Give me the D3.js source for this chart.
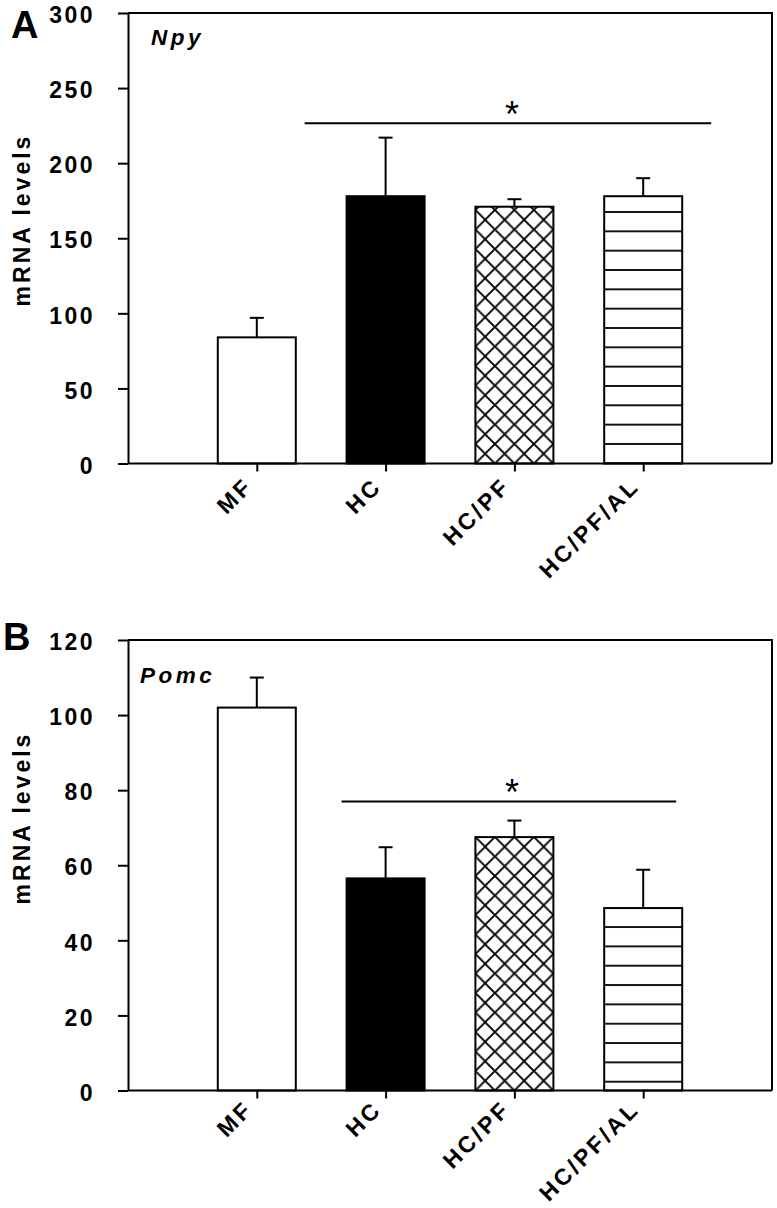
<!DOCTYPE html>
<html>
<head>
<meta charset="utf-8">
<script src="https://cdn.jsdelivr.net/npm/d3@7"></script>
<style>
  html, body { margin: 0; padding: 0; background: #fff; }
  svg { display: block; font-family: "Liberation Sans", Arial, sans-serif; }
</style>
</head>
<body>
<svg id="chart" width="777" height="1208"></svg>
<script>
// ---------------- data ----------------
const categories = ["MF", "HC", "HC/PF", "HC/PF/AL"];
const fills = ["white", "black", "cross", "hlines"];

const npyMeans  = [84, 178, 171, 178];
const npyErrors = [13, 39, 5, 12];
const npyTicks  = [0, 50, 100, 150, 200, 250, 300];

const pomcMeans  = [102, 56.5, 67.5, 48.6];
const pomcErrors = [8, 8.3, 4.4, 10.2];
const pomcTicks  = [0, 20, 40, 60, 80, 100, 120];

const panels = [
  { letter: "A", gene: "Npy", means: npyMeans, errors: npyErrors, ticks: npyTicks, max: 300,
    top: 13, bottom: 463.5, sigValue: 226.5, sigFrom: "HC", sigFromDx: -81, sigTo: "HC/PF/AL", sigToDx: 68,
    letterX: 11, letterY: 37.5, geneX: 151, geneY: 45, labelY: 220, hlineY: 463.3, xlabDy: 24 },
  { letter: "B", gene: "Pomc", means: pomcMeans, errors: pomcErrors, ticks: pomcTicks, max: 120,
    top: 640, bottom: 1090.5, sigValue: 77, sigFrom: "HC", sigFromDx: -44, sigTo: "HC/PF/AL", sigToDx: 33,
    letterX: 3, letterY: 650, geneX: 140, geneY: 683, labelY: 818, hlineY: 1081.7, xlabDy: 20 }
];

// ---------------- layout ----------------
const left = 128, right = 772, barW = 78, capW = 14;
const svg = d3.select("#chart");
const defs = svg.append("defs");

const x = d3.scalePoint().domain(categories).range([left, right]).padding(1);

panels.forEach((p, pi) => {
  // patterns
  const cw = 19.5;
  const cross = defs.append("pattern")
    .attr("id", "cross" + pi).attr("patternUnits", "userSpaceOnUse")
    .attr("width", cw).attr("height", cw)
    .attr("x", x("HC/PF")).attr("y", p.bottom - cw / 2);
  cross.append("rect").attr("width", cw).attr("height", cw).attr("fill", "white");
  cross.append("path")
    .attr("d", `M0,${cw/2} L${cw/2},0 L${cw},${cw/2} L${cw/2},${cw} Z M-1,${cw/2-1} L1,${cw/2+1}`)
    .attr("fill", "none").attr("stroke", "black").attr("stroke-width", 1.8);

  const hh = 19.33;
  const hl = defs.append("pattern")
    .attr("id", "hlines" + pi).attr("patternUnits", "userSpaceOnUse")
    .attr("width", 20).attr("height", hh)
    .attr("x", 0).attr("y", p.hlineY - hh / 2);
  hl.append("rect").attr("width", 20).attr("height", hh).attr("fill", "white");
  hl.append("line").attr("x1", 0).attr("x2", 20).attr("y1", hh / 2).attr("y2", hh / 2)
    .attr("stroke", "black").attr("stroke-width", 1.8);

  const y = d3.scaleLinear().domain([0, p.max]).range([p.bottom, p.top]);
  const g = svg.append("g");

  const fillOf = i => fills[i] === "white" ? "white" : fills[i] === "black" ? "black"
                 : `url(#${fills[i]}${pi})`;

  // bars
  const data = categories.map((c, i) => ({ c, i, v: p.means[i], e: p.errors[i] }));
  g.selectAll("rect.bar").data(data).enter().append("rect")
    .attr("class", "bar")
    .attr("x", d => x(d.c) - barW / 2)
    .attr("width", barW)
    .attr("y", d => y(d.v))
    .attr("height", d => y(0) - y(d.v))
    .attr("fill", d => fillOf(d.i))
    .attr("stroke", "black").attr("stroke-width", 2);

  // error bars
  g.selectAll("line.err").data(data).enter().append("line")
    .attr("x1", d => x(d.c)).attr("x2", d => x(d.c))
    .attr("y1", d => y(d.v)).attr("y2", d => y(d.v + d.e))
    .attr("stroke", "black").attr("stroke-width", 2);
  g.selectAll("line.cap").data(data).enter().append("line")
    .attr("x1", d => x(d.c) - capW / 2).attr("x2", d => x(d.c) + capW / 2)
    .attr("y1", d => y(d.v + d.e)).attr("y2", d => y(d.v + d.e))
    .attr("stroke", "black").attr("stroke-width", 2);

  // frame (top + right)
  g.append("path")
    .attr("d", `M${left},${p.top} H${right} V${p.bottom}`)
    .attr("fill", "none").attr("stroke", "black").attr("stroke-width", 2);

  // y axis
  const ya = g.append("g").attr("transform", `translate(${left},0)`)
    .call(d3.axisLeft(y).tickValues(p.ticks).tickSize(10).tickSizeOuter(0).tickPadding(23));
  ya.select(".domain").attr("stroke-width", 2);
  ya.selectAll(".tick line").attr("stroke-width", 2);
  ya.selectAll(".tick text")
    .attr("font-size", 23).attr("font-weight", "bold").attr("fill", "black")
    .attr("font-family", "'Liberation Sans', Arial, sans-serif")
    .attr("letter-spacing", 2.5).attr("dy", "0.42em");

  // x axis
  const xa = g.append("g").attr("transform", `translate(0,${p.bottom})`)
    .call(d3.axisBottom(x).tickSize(8).tickSizeOuter(0));
  xa.select(".domain").attr("d", `M${left},0H${right}`).attr("stroke-width", 2);
  xa.selectAll(".tick line").attr("stroke-width", 2);
  xa.selectAll(".tick text")
    .attr("y", null).attr("dy", null)
    .attr("text-anchor", "end")
    .attr("transform", `translate(-3,${p.xlabDy}) rotate(-45)`)
    .attr("font-size", 23).attr("font-weight", "bold").attr("fill", "black")
    .attr("font-family", "'Liberation Sans', Arial, sans-serif")
    .attr("letter-spacing", 3);

  // y label
  g.append("text")
    .attr("transform", `translate(30,${p.labelY}) rotate(-90)`)
    .attr("text-anchor", "middle")
    .attr("font-size", 23).attr("font-weight", "bold").attr("letter-spacing", 3)
    .text("mRNA levels");

  // panel letter
  g.append("text").attr("x", p.letterX).attr("y", p.letterY)
    .attr("font-size", 38).attr("font-weight", "bold").text(p.letter);

  // gene name
  g.append("text").attr("x", p.geneX).attr("y", p.geneY)
    .attr("font-size", 22.5).attr("font-weight", "bold").attr("font-style", "italic")
    .attr("letter-spacing", 3.5).text(p.gene);

  // significance line and star
  const sy = y(p.sigValue);
  const sx1 = x(p.sigFrom) + p.sigFromDx, sx2 = x(p.sigTo) + p.sigToDx;
  g.append("line").attr("x1", sx1).attr("x2", sx2).attr("y1", sy).attr("y2", sy)
    .attr("stroke", "black").attr("stroke-width", 2);
  g.append("text").attr("x", 512).attr("y", sy + 3.3)
    .attr("text-anchor", "middle").attr("font-size", 36).text("*");
});
</script>
</body>
</html>
